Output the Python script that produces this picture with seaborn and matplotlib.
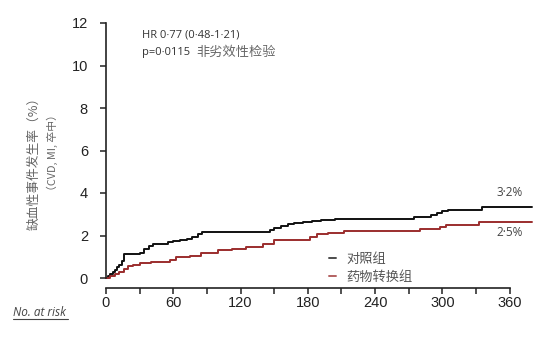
import numpy as np
import pandas as pd
import matplotlib
matplotlib.use("Agg")
import matplotlib.pyplot as plt
import seaborn as sns
from matplotlib.lines import Line2D
from matplotlib.ticker import MultipleLocator

# ---- data ----
group_labels = ["对照组", "药物转换组"]
control_days = [0, 2, 4, 6, 8, 10, 12, 14, 16, 30, 34, 38, 42, 46, 55, 60, 66, 72, 77, 82, 86,
                146, 150, 156, 162, 168, 176, 184, 192, 204, 275, 290, 295, 300, 305, 335, 380]
control_vals = [0, 0.1, 0.2, 0.3, 0.4, 0.5, 0.6, 0.8, 1.15, 1.2, 1.35, 1.5, 1.6, 1.62, 1.68, 1.75, 1.8,
                1.85, 1.95, 2.05, 2.18, 2.28, 2.36, 2.45, 2.52, 2.58, 2.63, 2.7, 2.75, 2.8, 2.88,
                2.97, 3.05, 3.15, 3.22, 3.34, 3.34]
switch_days = [0, 4, 8, 12, 16, 20, 24, 30, 40, 57, 62, 75, 85, 100, 112, 125, 140, 150, 182, 188,
               198, 212, 280, 298, 303, 333, 380]
switch_vals = [0, 0.1, 0.2, 0.3, 0.42, 0.55, 0.62, 0.7, 0.75, 0.85, 1.0, 1.05, 1.17, 1.3, 1.35,
               1.45, 1.6, 1.79, 1.95, 2.05, 2.12, 2.2, 2.32, 2.42, 2.48, 2.62, 2.62]
x_ticks = [0, 60, 120, 180, 240, 300, 360]
y_ticks = [0, 2, 4, 6, 8, 10, 12]
end_labels = ["3·2%", "2·5%"]
hr_text = "HR 0·77 (0·48-1·21)"
p_text = "p=0·0115"
test_text = "非劣效性检验"
ylabel1 = "缺血性事件发生率（%）"
ylabel2 = "（CVD, MI, 卒中）"
risk_text = "No. at risk"

df = pd.concat([
    pd.DataFrame({"day": control_days, "rate": control_vals, "group": group_labels[0]}),
    pd.DataFrame({"day": switch_days, "rate": switch_vals, "group": group_labels[1]}),
], ignore_index=True)

sns.set_style("white")
plt.rcParams["font.family"] = ["Liberation Sans", "Noto Sans CJK SC", "DejaVu Sans"]
cjk = ["Noto Sans CJK SC", "DejaVu Sans"]

W, H = 545, 338
fig = plt.figure(figsize=(W / 100, H / 100), dpi=100)
ax = fig.add_axes([106 / W, (H - 278) / H, (532 - 106) / W, (278 - 23) / H])

palette = {group_labels[0]: "#111111", group_labels[1]: "#9b2d2d"}
sns.lineplot(data=df, x="day", y="rate", hue="group", palette=palette, estimator=None,
             sort=False, drawstyle="steps-post", linewidth=1.4, ax=ax, legend=True)
for ln in ax.get_lines():
    ln.set_clip_on(False)

ax.set_xlim(0, 380)
ax.set_ylim(0, 12)
ax.set_xticks(x_ticks)
ax.xaxis.set_minor_locator(MultipleLocator(30))
ax.set_yticks(y_ticks)
ax.set_xlabel("")
ax.set_ylabel("")
sns.despine(ax=ax)
ax.spines["left"].set_bounds(0, 12)
ax.spines["bottom"].set_bounds(0, 360)
ax.spines["bottom"].set_position(("outward", 7.2))
for s in ["left", "bottom"]:
    ax.spines[s].set_linewidth(1.2)
    ax.spines[s].set_color("#222222")
ax.tick_params(axis="y", which="major", direction="out", length=4.5, width=1.1,
               color="#222222", pad=8.5, labelsize=10.5, labelcolor="#222222", left=True)
ax.tick_params(axis="x", which="both", direction="out", length=4.5, width=1.1,
               color="#222222", pad=1.5, labelsize=10.5, labelcolor="#222222", bottom=True)

# legend
handles, labels = ax.get_legend_handles_labels()
leg = ax.legend(handles, labels, loc="upper left",
                bbox_to_anchor=((317 - 106) / (532 - 106), (278 - 241) / (278 - 23)),
                frameon=False, handlelength=0.55, handletextpad=0.75, labelspacing=0.35,
                prop={"family": cjk, "size": 9.5})
for t in leg.get_texts():
    t.set_color("#555555")
for h in leg.legend_handles:
    h.set_alpha(0.75)

# annotations
fig.text(142 / W, 1 - 35 / H, hr_text, fontsize=8, color="#333333", va="center", ha="left",
         family=["Open Sans", "DejaVu Sans"])
fig.text(142 / W, 1 - 52 / H, p_text, fontsize=8, color="#333333", va="center", ha="left",
         family=["Open Sans", "DejaVu Sans"])
fig.text(196 / W, 1 - 52 / H, test_text, fontsize=9.5, color="#666666", va="center", ha="left",
         family=cjk)
fig.text(510 / W, 1 - 193 / H, end_labels[0], fontsize=8.5, color="#444444", va="center", ha="center",
         family=["Open Sans", "DejaVu Sans"])
fig.text(510 / W, 1 - 233 / H, end_labels[1], fontsize=8.5, color="#444444", va="center", ha="center",
         family=["Open Sans", "DejaVu Sans"])

# y labels (two rotated lines)
fig.text(34 / W, 1 - 160 / H, ylabel1, rotation=90, fontsize=9.2, color="#666666",
         va="center", ha="center", family=cjk)
fig.text(52 / W, 1 - 152 / H, ylabel2, rotation=90, fontsize=7.8, color="#666666",
         va="center", ha="center", family=cjk)

# No. at risk
fig.text(13 / W, 1 - 312 / H, risk_text, fontsize=8.5, style="italic", color="#444444",
         va="center", ha="left", family=["Open Sans", "DejaVu Sans"])
fig.add_artist(Line2D([13 / W, 68 / W], [1 - 319 / H, 1 - 319 / H], color="#444444", linewidth=0.8))

fig.savefig("out.png", dpi=100)
